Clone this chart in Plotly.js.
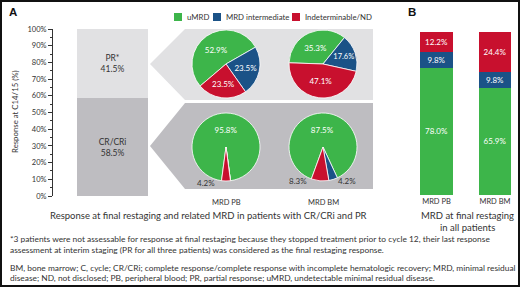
<!DOCTYPE html>
<html>
<head>
<meta charset="utf-8">
<script src="https://cdn.plot.ly/plotly-3.0.1.min.js"></script>
<style>html,body{margin:0;padding:0;background:#fff}#chart{width:520px;height:287px}</style>
</head>
<body>
<div id="chart"></div>
<script>
// ---- data ----
const seriesNames = ['uMRD', 'MRD intermediate', 'Indeterminable/ND'];
const seriesColors = ['#3db54a', '#1b5287', '#c8102e'];

const responseLabels = ['CR/CRi', 'PR*'];
const responseValues = [58.5, 41.5];

// pies: [uMRD, MRD intermediate, Indeterminable/ND]
const prPB = [52.9, 23.5, 23.5];
const prBM = [35.3, 17.6, 47.1];
const crPB = [95.8, 0, 4.2];
const crBM = [87.5, 4.2, 8.3];
const pieLabels = ['MRD PB', 'MRD BM'];

// panel B
const bCategories = ['MRD PB', 'MRD BM'];
const bUMRD = [78.0, 65.9];
const bInter = [9.8, 9.8];
const bIndet = [12.2, 24.4];

const captionA = 'Response at final restaging and related MRD in patients with CR/CRi and PR';
const captionB = ['MRD at final restaging', 'in all patients'];
const yTitle = 'Response at C14/15 (%)';
const footnotes = [
  '*3 patients were not assessable for response at final restaging because they stopped treatment prior to cycle 12, their last response',
  'assessment at interim staging (PR for all three patients) was considered as the final restaging response.',
  'BM, bone marrow; C, cycle; CR/CRi; complete response/complete response with incomplete hematologic recovery; MRD, minimal residual',
  'disease; ND, not disclosed; PB, peripheral blood; PR, partial response; uMRD, undetectable minimal residual disease.'
];

// ---- helpers ----
const W = 520, H = 287;
const fx = x => x / W;
const fy = y => 1 - y / H;
const FONT = 'Lato, "Open Sans", sans-serif';
const TXT = '#333333';
const grayPR = '#e1e1e3', grayCR = '#bebdc1';
const fmt = v => v.toFixed(1) + '%';

function pieTrace(vals, cx, cy, rot, textpos) {
  const r = 34;
  return {
    type: 'pie', values: vals, labels: seriesNames, sort: false,
    direction: 'clockwise', rotation: rot,
    marker: {colors: seriesColors, line: {color: '#ffffff', width: 0.8}},
    texttemplate: '%{value:.1f}%', textposition: textpos,
    insidetextorientation: 'horizontal',
    textfont: {color: '#ffffff', size: 8, family: FONT},
    domain: {x: [fx(cx - r), fx(cx + r)], y: [fy(cy + r), fy(cy - r)]},
    showlegend: false, hoverinfo: 'none'
  };
}

const traces = [
  // Panel A stacked response bar
  {type: 'bar', x: ['R'], y: [responseValues[0]], xaxis: 'x', yaxis: 'y',
   marker: {color: grayCR}, width: 1,
   text: [responseLabels[0] + '<br>' + fmt(responseValues[0])], textposition: 'inside',
   insidetextanchor: 'middle', textfont: {color: TXT, size: 8.5, family: FONT}, showlegend: false, hoverinfo: 'none'},
  {type: 'bar', x: ['R'], y: [responseValues[1]], xaxis: 'x', yaxis: 'y',
   marker: {color: grayPR}, width: 1,
   text: [responseLabels[1] + '<br>' + fmt(responseValues[1])], textposition: 'inside',
   insidetextanchor: 'middle', textfont: {color: TXT, size: 8.5, family: FONT}, showlegend: false, hoverinfo: 'none'},
  // Panel B stacked bars
  {type: 'bar', x: bCategories, y: bUMRD, xaxis: 'x2', yaxis: 'y2', width: 0.56,
   marker: {color: seriesColors[0]}, texttemplate: '%{y:.1f}%', textposition: 'inside', insidetextanchor: 'middle',
   textfont: {color: '#fff', size: 8, family: FONT}, showlegend: false, hoverinfo: 'none'},
  {type: 'bar', x: bCategories, y: bInter, xaxis: 'x2', yaxis: 'y2', width: 0.56,
   marker: {color: seriesColors[1]}, texttemplate: '%{y:.1f}%', textposition: 'inside', insidetextanchor: 'middle',
   textfont: {color: '#fff', size: 8, family: FONT}, showlegend: false, hoverinfo: 'none'},
  {type: 'bar', x: bCategories, y: bIndet, xaxis: 'x2', yaxis: 'y2', width: 0.56,
   marker: {color: seriesColors[2]}, texttemplate: '%{y:.1f}%', textposition: 'inside', insidetextanchor: 'middle',
   textfont: {color: '#fff', size: 8, family: FONT}, showlegend: false, hoverinfo: 'none'},
  // Pies
  pieTrace(prPB, 226, 64, -130.4, 'inside'),
  pieTrace(prBM, 323, 64, -88, 'inside'),
  pieTrace(crPB, 226, 147, -172.4, ['inside', 'none', 'none']),
  pieTrace(crBM, 323, 147, -160, ['inside', 'none', 'none'])
];

function P(pts) {
  return pts.map((p, i) => (i ? 'L' : 'M') + fx(p[0]).toFixed(5) + ',' + fy(p[1]).toFixed(5)).join(' ') + ' Z';
}

const shapes = [
  {type: 'path', xref: 'paper', yref: 'paper', layer: 'below', line: {width: 0}, fillcolor: grayPR,
   path: P([[150, 64], [185, 29], [373, 29], [373, 100], [185, 100]])},
  {type: 'path', xref: 'paper', yref: 'paper', layer: 'below', line: {width: 0}, fillcolor: grayCR,
   path: P([[150, 146], [185, 103], [373, 103], [373, 189], [185, 189]])},
  // outer frame
  {type: 'rect', xref: 'paper', yref: 'paper', x0: fx(1), x1: fx(519), y0: fy(286), y1: fy(1),
   line: {color: '#111', width: 2}, fillcolor: 'rgba(0,0,0,0)'}
];
// legend squares
const legX = [174, 213, 292];
const legTextX = [185, 224, 303];
seriesNames.forEach((n, i) => {
  shapes.push({type: 'rect', xref: 'paper', yref: 'paper', x0: fx(legX[i]), x1: fx(legX[i] + 8),
    y0: fy(21), y1: fy(13), line: {width: 0}, fillcolor: seriesColors[i]});
});

const ann = [];
function A(text, x, y, size, opts) {
  ann.push(Object.assign({text: text, xref: 'paper', yref: 'paper', x: fx(x), y: fy(y), showarrow: false,
    xanchor: 'center', yanchor: 'middle', font: {size: size, color: TXT, family: FONT}}, opts || {}));
}
A('<b>A</b>', 7, 12, 11.5, {xanchor: 'left', font: {size: 11.5, color: '#111', family: 'Liberation Sans, Arial, sans-serif'}});
A('<b>B</b>', 406, 12, 11.5, {xanchor: 'left', font: {size: 11.5, color: '#111', family: 'Liberation Sans, Arial, sans-serif'}});
seriesNames.forEach((n, i) => A(n, legTextX[i], 17, 7.8, {xanchor: 'left'}));
A(yTitle, 15, 112, 7.8, {textangle: -90});
A(pieLabels[0], 226, 202, 7.5);
A(pieLabels[1], 323, 202, 7.5);
A(captionA, 208, 215, 9.5);
A(captionB[0], 467, 215, 9.5);
A(captionB[1], 467, 227, 9.5);
// small slice labels
A(fmt(crPB[2]), 206, 183, 8);
A(fmt(crBM[2]), 298, 181, 8);
A(fmt(crBM[1]), 347, 181, 8);
const fnY = [239, 250, 268, 278];
footnotes.forEach((t, i) => A(t, 8, fnY[i], 8.4, {xanchor: 'left'}));

const layout = {
  width: W, height: H, margin: {l: 0, r: 0, t: 0, b: 0},
  paper_bgcolor: '#fff', plot_bgcolor: 'rgba(0,0,0,0)',
  barmode: 'stack', bargap: 0,
  font: {family: FONT, color: TXT},
  xaxis: {domain: [fx(53), fx(148)], range: [-0.5 - 24 / 71, 0.5], visible: false, fixedrange: true, anchor: 'y'},
  yaxis: {domain: [fy(196), fy(29)], range: [0, 100], anchor: 'x', dtick: 10, ticksuffix: '%',
    ticks: 'outside', ticklen: 4, tickwidth: 1, tickcolor: '#333', showline: true, linecolor: '#333', linewidth: 1,
    showgrid: false, zeroline: false, tickfont: {size: 7.5, color: TXT, family: FONT},
    minor: {dtick: 5, ticks: 'outside', ticklen: 2, tickcolor: '#333', showgrid: false}},
  xaxis2: {domain: [fx(400), fx(515)], range: [-0.624, 1.342], anchor: 'y2', showline: false, ticks: '',
    showgrid: false, zeroline: false, tickfont: {size: 7.5, color: TXT, family: FONT}, type: 'category'},
  yaxis2: {domain: [fy(195), fy(32)], range: [0, 100], anchor: 'x2', visible: false},
  shapes: shapes, annotations: ann, showlegend: false
};

Plotly.newPlot('chart', traces, layout, {staticPlot: true, displayModeBar: false});
</script>
</body>
</html>
